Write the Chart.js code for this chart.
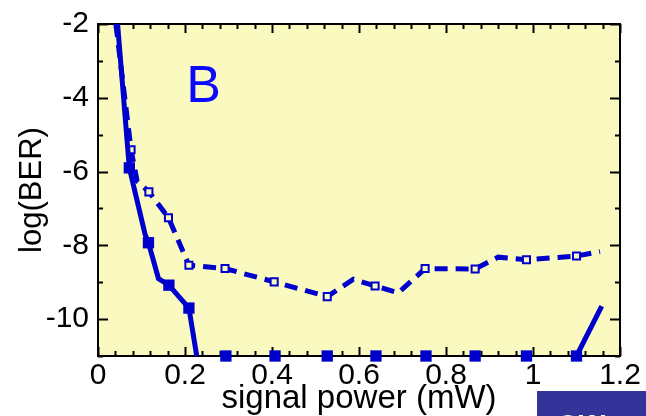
<!DOCTYPE html>
<html>
<head>
<meta charset="utf-8">
<script src="https://cdn.jsdelivr.net/npm/chart.js@4"></script>
<style>
  html, body { margin: 0; padding: 0; background: #ffffff; }
  #wrap { width: 646px; height: 416px; position: relative; }
</style>
</head>
<body>
<div id="wrap"><canvas id="chart-ber"></canvas></div>
<script>
// filled squares, solid line (1 = draw a marker at that vertex)
const solidX = [0.045, 0.072, 0.108, 0.116, 0.139, 0.163, 0.209, 0.227, 0.294, 0.407, 0.527, 0.639, 0.754, 0.867, 0.985, 1.100, 1.158];
const solidY = [-2.0, -5.9, -7.69, -7.93, -8.9, -9.08, -9.7, -11, -11, -11, -11, -11, -11, -11, -11, -11, -9.65];
const solidMark = [0, 1, 0, 1, 0, 1, 1, 0, 1, 1, 1, 1, 1, 1, 1, 1, 0];

// open squares, dashed line
const dashedX = [0.041, 0.076, 0.090, 0.117, 0.162, 0.209, 0.292, 0.405, 0.527, 0.587, 0.637, 0.690, 0.752, 0.867, 0.920, 0.985, 1.100, 1.154];
const dashedY = [-2.0, -5.41, -6.26, -6.55, -7.25, -8.54, -8.63, -8.99, -9.39, -8.92, -9.10, -9.29, -8.63, -8.64, -8.32, -8.39, -8.29, -8.17];
const dashedMark = [0, 1, 0, 1, 1, 1, 1, 1, 1, 0, 1, 0, 1, 1, 0, 1, 1, 0];

const xTickValues = [0, 0.2, 0.4, 0.6, 0.8, 1, 1.2];
const yTickValues = [-10, -8, -6, -4, -2];
const xMin = 0, xMax = 1.2, yMin = -11, yMax = -2;

const blue = '#0000cc';
const plotBg = '#fafac0';
const fontFamily = '"Liberation Sans", Arial, Helvetica, sans-serif';

function toPoints(xs, ys) {
    return xs.map((x, i) => ({ x: x, y: ys[i] }));
}

// pale background, frame and inward ticks on all four sides
const framePlugin = {
    id: 'frame',
    beforeDatasetsDraw(chart) {
        const { ctx, chartArea: a, scales: { x, y } } = chart;
        ctx.save();
        ctx.fillStyle = plotBg;
        ctx.fillRect(a.left, a.top, a.right - a.left, a.bottom - a.top);

        ctx.strokeStyle = '#000000';
        ctx.lineWidth = 2;
        ctx.beginPath();
        for (let i = 0; i <= 30; i++) {
            const v = xMin + i * 0.04;
            const px = Math.round(x.getPixelForValue(v)) + 0.5;
            const len = (i % 5 === 0) ? 9 : 5;
            ctx.moveTo(px, a.bottom); ctx.lineTo(px, a.bottom - len);
            ctx.moveTo(px, a.top); ctx.lineTo(px, a.top + len);
        }
        for (let v = yMin; v <= yMax; v++) {
            const py = Math.round(y.getPixelForValue(v)) + 0.5;
            const len = (v % 2 === 0) ? 10 : 5;
            ctx.moveTo(a.left, py); ctx.lineTo(a.left + len, py);
            ctx.moveTo(a.right, py); ctx.lineTo(a.right - len, py);
        }
        ctx.stroke();
        ctx.strokeRect(a.left, a.top, a.right - a.left, a.bottom - a.top);

        // panel letter
        ctx.fillStyle = '#0a0aff';
        ctx.font = '52px ' + fontFamily;
        ctx.textAlign = 'center';
        ctx.textBaseline = 'middle';
        ctx.fillText('B', x.getPixelForValue(0.243), y.getPixelForValue(-3.72));
        ctx.restore();
    },
    afterDraw(chart) {
        const { ctx, width, height } = chart;
        ctx.save();
        ctx.fillStyle = '#333399';
        ctx.fillRect(537, 391, width - 537, height - 391);
        ctx.fillStyle = '#ffffff';
        ctx.font = 'bold 28px ' + fontFamily;
        ctx.textAlign = 'left';
        ctx.textBaseline = 'alphabetic';
        ctx.fillText('OW', 557, 434);
        ctx.restore();
    }
};

const ctx = document.getElementById('chart-ber');
const chart = new Chart(ctx, {
    type: 'scatter',
    data: {
        datasets: [
            {
                label: 'solid',
                data: toPoints(solidX, solidY),
                showLine: true,
                borderColor: blue,
                borderWidth: 5,
                backgroundColor: blue,
                pointStyle: 'rect',
                pointRadius: solidMark.map(m => m ? 8 : 0),
                pointHoverRadius: solidMark.map(m => m ? 8 : 0),
                pointBorderWidth: 0,
                pointBackgroundColor: blue,
                clip: 10,
                segment: {
                    borderColor: c => (c.p0.parsed.y <= yMin && c.p1.parsed.y <= yMin) ? 'rgba(0,0,0,0)' : blue
                }
            },
            {
                label: 'dashed',
                data: toPoints(dashedX, dashedY),
                showLine: true,
                borderColor: blue,
                borderWidth: 5,
                borderDash: [13, 8],
                backgroundColor: plotBg,
                pointStyle: 'rect',
                pointRadius: dashedMark.map(m => m ? 5 : 0),
                pointHoverRadius: dashedMark.map(m => m ? 5 : 0),
                pointBorderWidth: 2,
                pointBorderColor: blue,
                pointBackgroundColor: plotBg,
                clip: 10
            }
        ]
    },
    options: {
        responsive: true,
        maintainAspectRatio: false,
        animation: false,
        layout: { padding: { top: 15, right: 26, left: 0, bottom: 0 } },
        plugins: {
            legend: { display: false },
            tooltip: { enabled: false }
        },
        scales: {
            x: {
                type: 'linear',
                min: xMin,
                max: xMax,
                grid: { display: false, drawTicks: false },
                border: { display: false },
                afterBuildTicks: scale => { scale.ticks = xTickValues.map(v => ({ value: v })); },
                afterFit: scale => { scale.height = 60; },
                ticks: {
                    color: '#000000',
                    padding: 5,
                    maxRotation: 0,
                    autoSkip: false,
                    font: { family: fontFamily, size: 30, lineHeight: 1 },
                    callback: v => String(v)
                },
                title: {
                    display: true,
                    text: 'signal power (mW)',
                    color: '#000000',
                    padding: { top: 0, bottom: 1 },
                    font: { family: fontFamily, size: 33, lineHeight: 1 }
                }
            },
            y: {
                type: 'linear',
                min: yMin,
                max: yMax,
                grid: { display: false, drawTicks: false },
                border: { display: false },
                afterBuildTicks: scale => { scale.ticks = yTickValues.map(v => ({ value: v })); },
                afterFit: scale => { scale.width = 98; },
                ticks: {
                    color: '#000000',
                    padding: 9,
                    autoSkip: false,
                    font: { family: fontFamily, size: 30, lineHeight: 1 },
                    callback: v => String(v)
                },
                title: {
                    display: true,
                    text: 'log(BER)',
                    color: '#000000',
                    padding: { top: 17, bottom: 0 },
                    font: { family: fontFamily, size: 31, lineHeight: 1 }
                }
            }
        }
    },
    plugins: [framePlugin]
});
</script>
</body>
</html>
